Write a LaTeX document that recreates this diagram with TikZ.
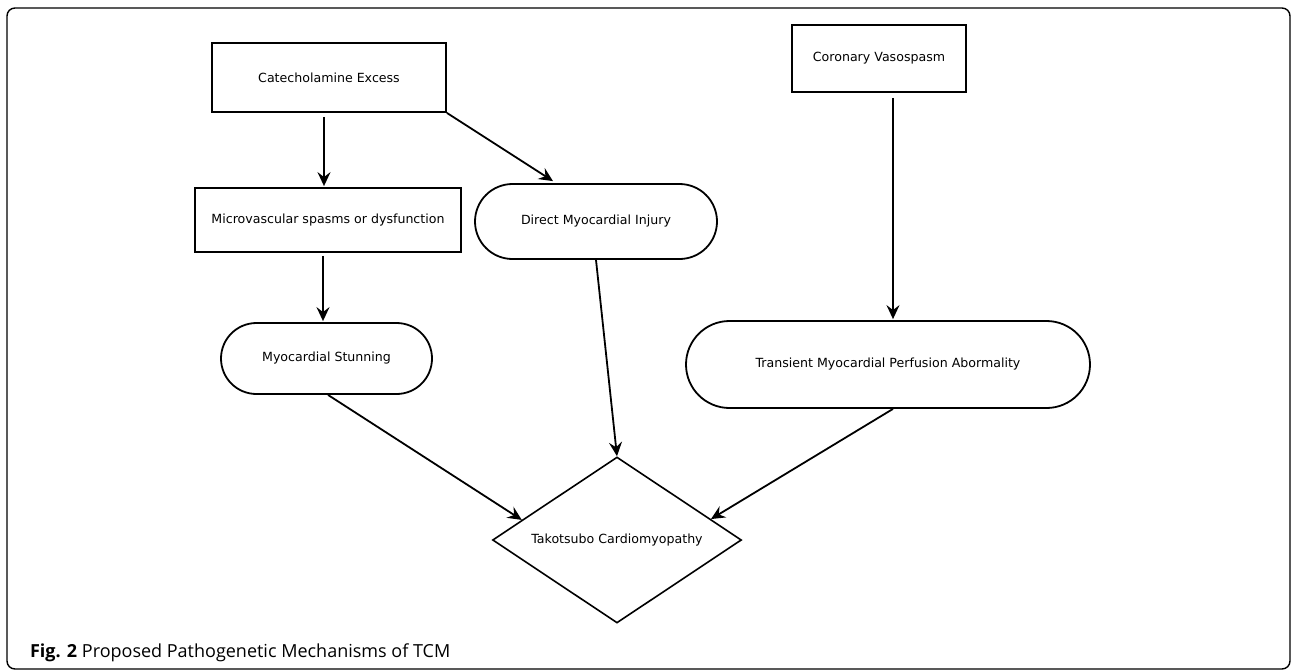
\documentclass[tikz,border=0pt]{standalone}
\usepackage{fontspec}
\setmainfont{DejaVu Sans}
\newfontfamily\capfont{Open Sans}
\usepackage{tikz}
\usetikzlibrary{calc,arrows.meta,shapes,shapes.misc,shapes.geometric}

\begin{document}
\begin{tikzpicture}[>={Stealth[length=7pt, width=6.5pt, inset=2.5pt]}, x=0.5pt, y=-0.5pt, every node/.style={font=\fontsize{6.3}{7.5}\selectfont}]
      \tikzset{
	  box/.style={rectangle, draw, line width=0.9pt, inner sep=0em},
	  pill/.style={rounded rectangle, draw, line width=0.9pt, inner sep=0em},
	  decision/.style={diamond, draw, line width=0.8pt, inner sep=0em},
	  link/.style={->, line width=0.9pt},
      }
      \useasboundingbox (0,0) rectangle (1292,670);
      \draw [line width=0.7pt, rounded corners=4pt] (7,8) rectangle (1290,669);

      % causes
      \node (cat) at (329,77.5) [box, minimum width=117pt, minimum height=34.5pt] {Catecholamine Excess};
      \node (vaso) at (879,58.5) [box, minimum width=87pt, minimum height=33.5pt] {Coronary Vasospasm};

      % mechanisms
      \node (micro) at (328,220) [box, minimum width=133pt, minimum height=32pt] {Microvascular spasms or dysfunction};
      \node (direct) at (596,221.5) [pill, minimum width=121pt, minimum height=37.5pt] {Direct Myocardial Injury};
      \node (stun) at (326.5,358.5) [pill, minimum width=105.5pt, minimum height=35.5pt] {Myocardial Stunning};
      \node (perf) at (888,364.5) [pill, minimum width=202pt, minimum height=43.5pt] {Transient Myocardial Perfusion Abormality};

      % outcome
      \node (tako) at (617,540) [decision, minimum width=124.5pt, minimum height=83pt] {\makebox[0pt]{Takotsubo Cardiomyopathy}};

      \draw [link] ($(cat.south)+(-5,4)$) -- ($(micro.north)+(-4,-1)$);
      \draw [link] (cat.south east) -- ($(direct.north)+(-43,-2)$);
      \draw [link] ($(micro.south)+(-5,3)$) -- ($(stun.north)+(-3.5,-1)$);
      \draw [link] ($(vaso.south)+(14,5)$) -- ($(perf.north)+(5,-1)$);
      \draw [link] (direct.south) -- (tako.north);
      \draw [link] ($(stun.south)+(1.5,0)$) -- ($(tako.west)!0.24!(tako.north)$);
      \draw [link] ($(perf.south)+(5,0)$) -- ($(tako.east)!0.25!(tako.north)$);

      \node (caption) at (23,657) [anchor=base west, font=\capfont\fontsize{9}{11}\selectfont] {\textbf{Fig. 2} Proposed Pathogenetic Mechanisms of TCM};
\end{tikzpicture}
\end{document}
